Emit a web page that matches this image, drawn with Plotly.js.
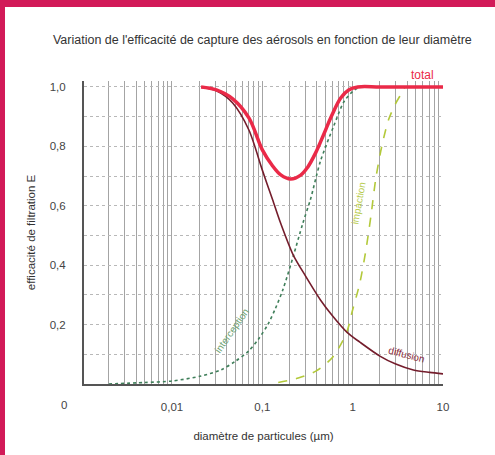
<!DOCTYPE html>
<html>
<head>
<meta charset="utf-8">
<script src="https://cdn.plot.ly/plotly-3.0.1.min.js"></script>
<style>
  html, body { margin: 0; padding: 0; background: #fff; }
  #frame { position: relative; width: 495px; height: 455px; overflow: hidden; background: #fff; }
  #bt { position: absolute; left: 0; top: 0; width: 495px; height: 7px; background: #d21a58; z-index: 5; }
  #bl { position: absolute; left: 0; top: 0; width: 5px; height: 455px; background: #d21a58; z-index: 5; }
  #chart { position: absolute; left: 0; top: 0; width: 495px; height: 455px; }
</style>
</head>
<body>
<div id="frame">
  <div id="chart"></div>
  <div id="bt"></div>
  <div id="bl"></div>
</div>
<script>
// ---- data (diameter in µm, efficiency E) ----
const dTotal = [0.021, 0.031, 0.047, 0.071, 0.10, 0.13, 0.16, 0.206, 0.266, 0.318, 0.389, 0.478, 0.585, 0.737, 0.903, 1.14, 2, 5, 10];
const eTotal = [1.0, 0.99, 0.96, 0.896, 0.788, 0.734, 0.704, 0.69, 0.703, 0.73, 0.778, 0.84, 0.903, 0.963, 0.99, 1.0, 1.0, 1.0, 1.0];

const dDiffusion = [0.021, 0.031, 0.047, 0.071, 0.10, 0.13, 0.16, 0.22, 0.30, 0.44, 0.60, 0.88, 1.2, 2.0, 3.0, 4.7, 7.1, 10];
const eDiffusion = [1.0, 0.987, 0.946, 0.855, 0.72, 0.62, 0.54, 0.434, 0.364, 0.283, 0.229, 0.172, 0.141, 0.094, 0.067, 0.047, 0.039, 0.034];

const dInterception = [0.002, 0.005, 0.01, 0.021, 0.035, 0.05, 0.07, 0.09, 0.115, 0.14, 0.17, 0.22, 0.28, 0.34, 0.44, 0.62, 0.8, 1.0, 1.2];
const eInterception = [0.0, 0.005, 0.01, 0.027, 0.048, 0.076, 0.11, 0.15, 0.2, 0.255, 0.32, 0.43, 0.54, 0.62, 0.75, 0.87, 0.95, 0.985, 1.0];

const dImpaction = [0.15, 0.25, 0.4, 0.6, 0.85, 1.0, 1.2, 1.4, 1.6, 1.8, 2.1, 2.5, 3.0, 3.5, 3.8];
const eImpaction = [0.005, 0.02, 0.045, 0.09, 0.17, 0.25, 0.34, 0.45, 0.57, 0.69, 0.8, 0.89, 0.945, 0.98, 1.0];

// tick labels
const xDecades = [0.01, 0.1, 1, 10];
const xDecadeLabels = ["0,01", "0,1", "1", "10"];
const yTickValues = [0.1, 0.2, 0.3, 0.4, 0.5, 0.6, 0.7, 0.8, 0.9, 1.0];
const yTickLabels = ["", "0,2", "", "0,4", "", "0,6", "", "0,8", "", "1,0"];

// vertical grid positions: every 1..9 multiple of each decade
const xGridVals = [];
const xGridText = [];
[0.001, 0.01, 0.1, 1].forEach(dec => {
  for (let m = 1; m <= 9; m++) {
    const v = +(dec * m).toPrecision(3);
    if (v < 0.0011) continue;
    xGridVals.push(v);
    const k = xDecades.indexOf(v);
    xGridText.push(k >= 0 ? xDecadeLabels[k] : "");
  }
});
xGridVals.push(10); xGridText.push("10");

const FONT = "Liberation Sans, Arial, sans-serif";

const traces = [
  { x: dInterception, y: eInterception, mode: "lines", name: "interception",
    line: { color: "#3f7f5a", width: 1.6, dash: "dot", shape: "spline", smoothing: 0.8 } },
  { x: dImpaction, y: eImpaction, mode: "lines", name: "impaction",
    line: { color: "#b3c93a", width: 1.6, dash: "dash", shape: "spline", smoothing: 0.8 } },
  { x: dDiffusion, y: eDiffusion, mode: "lines", name: "diffusion",
    line: { color: "#741d2c", width: 1.6, shape: "spline", smoothing: 0.8 } },
  { x: dTotal, y: eTotal, mode: "lines", name: "total",
    line: { color: "#ea2a48", width: 3.5, shape: "spline", smoothing: 1 } }
];

const layout = {
  width: 495, height: 455,
  margin: { l: 84, r: 52, t: 81, b: 71 },
  paper_bgcolor: "#ffffff",
  plot_bgcolor: "#ffffff",
  showlegend: false,
  font: { family: FONT, size: 11, color: "#333" },
  title: { text: "Variation de l'efficacité de capture des aérosols en fonction de leur diamètre",
           font: { family: FONT, size: 12.5, color: "#333" }, x: 0.53, xanchor: "center", y: 0.912, yanchor: "middle" },
  xaxis: {
    type: "log",
    range: [-2.974, 1],
    tickmode: "array",
    tickvals: xGridVals,
    ticktext: xGridText,
    ticks: "",
    showgrid: true, gridcolor: "#a4a4a4", gridwidth: 1,
    showline: true, linecolor: "#555", linewidth: 2,
    zeroline: false,
    ticklabelstandoff: 11,
    tickfont: { family: FONT, size: 11.5, color: "#444" },
    title: { text: "diamètre de particules (µm)", font: { family: FONT, size: 11.5, color: "#333" }, standoff: 20 }
  },
  yaxis: {
    range: [0, 1.02],
    tickmode: "array",
    tickvals: yTickValues,
    ticktext: yTickLabels,
    ticks: "",
    showgrid: true, gridcolor: "#b8b8b8", gridwidth: 1, griddash: "dot",
    showline: true, linecolor: "#555", linewidth: 2,
    zeroline: false,
    ticklabelstandoff: 14,
    tickfont: { family: FONT, size: 11.5, color: "#444" },
    title: { text: "efficacité de filtration E", font: { family: FONT, size: 11.5, color: "#333" }, standoff: 12 }
  },
  annotations: [
    { xref: "paper", yref: "paper", x: -0.056, y: -0.07, xanchor: "center", yanchor: "middle",
      text: "0", showarrow: false, font: { family: FONT, size: 11.5, color: "#444" } },
    { x: Math.log10(6.0), y: 1.0, yshift: 12, text: "total", showarrow: false,
      font: { family: FONT, size: 12, color: "#ea2a48" } },
    { x: Math.log10(3.9), y: 0.098, text: "diffusion", showarrow: false, textangle: 15,
      font: { family: FONT, size: 10, color: "#8a2a3a" } },
    { x: Math.log10(0.046), y: 0.18, text: "interception", showarrow: false, textangle: -55,
      font: { family: FONT, size: 10, color: "#6aa070" } },
    { x: Math.log10(1.17), y: 0.61, text: "impaction", showarrow: false, textangle: -80,
      font: { family: FONT, size: 10, color: "#b8cc50" } }
  ]
};

Plotly.newPlot("chart", traces, layout, { staticPlot: true, displayModeBar: false });
</script>
</body>
</html>
